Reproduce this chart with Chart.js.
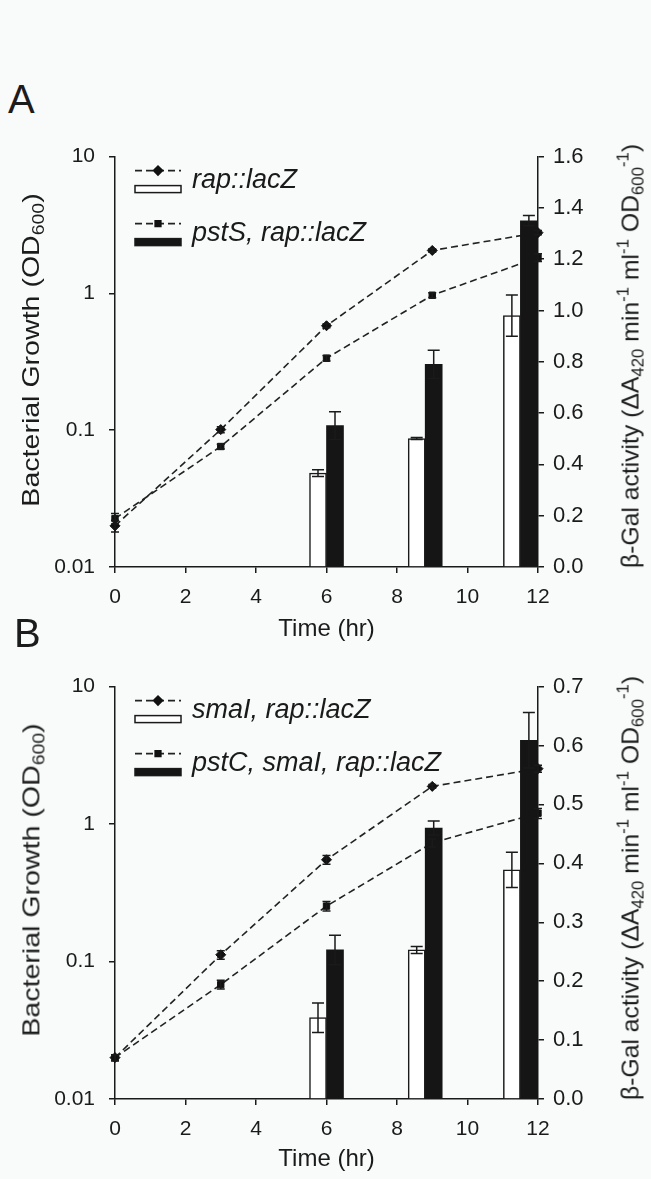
<!DOCTYPE html>
<html>
<head>
<meta charset="utf-8">
<title>rap::lacZ expression and growth</title>
<script src="https://cdn.jsdelivr.net/npm/chart.js"></script>
<style>
  body { margin: 0; background: #f9fafa; font-family: "Liberation Sans", Arial, sans-serif; color: #1c1c1c; }
  #page { position: relative; width: 651px; height: 1179px; overflow: hidden; }
  canvas { position: absolute; left: 0; }
  .panel { position: absolute; font-size: 40px; line-height: 1; }
  .ytitle { position: absolute; white-space: nowrap; font-size: 24px; line-height: 1; }
  .ytitle.left { transform: translate(-50%, -50%) rotate(-90deg) scaleX(1.19); }
  .ytitle.right { transform: translate(-50%, -50%) rotate(-90deg) scaleX(1.03); }
  .ytitle sub { font-size: 0.68em; vertical-align: -0.3em; }
  .ytitle sup { font-size: 0.68em; vertical-align: 0.6em; }
</style>
</head>
<body>
<div id="page">
  <div class="panel" style="left:8px;top:79px">A</div>
  <canvas id="chartA" width="651" height="520" style="top:130px"></canvas>
  <div class="ytitle left" style="left:33px;top:350px">Bacterial Growth (OD<sub>600</sub>)</div>
  <div class="ytitle right" style="left:630px;top:356px">&beta;-Gal activity (&Delta;A<sub>420</sub> min<sup>-1</sup> ml<sup>-1</sup> OD<sub>600</sub><sup>-1</sup>)</div>

  <div class="panel" style="left:14px;top:613px">B</div>
  <canvas id="chartB" width="651" height="520" style="top:660px"></canvas>
  <div class="ytitle left" style="left:33px;top:880px">Bacterial Growth (OD<sub>600</sub>)</div>
  <div class="ytitle right" style="left:630px;top:888px">&beta;-Gal activity (&Delta;A<sub>420</sub> min<sup>-1</sup> ml<sup>-1</sup> OD<sub>600</sub><sup>-1</sup>)</div>
</div>
<script>
// sampling times (hr) for growth curves, and where the bar pairs sit
var times = [0, 3, 6, 9, 12];
var barTimes = [6, 8.8, 11.5];

// axis ticks
var growthTicks = [0.01, 0.1, 1, 10];
var growthTickLabels = ['0.01', '0.1', '1', '10'];
var timeTicks = [0, 2, 4, 6, 8, 10, 12];

// panel A
var labelsA = ['rap::lacZ', 'pstS, rap::lacZ'];
var growthA1 = [0.020, 0.101, 0.58, 2.06, 2.78];
var growthA1Err = [0.002, 0.005, 0.02, 0.06, 0.10];
var growthA2 = [0.0226, 0.076, 0.336, 0.97, 1.83];
var growthA2Err = [0.002, 0.003, 0.015, 0.04, 0.12];
var galA1 = [0.366, 0.501, 0.98];
var galA1Err = [0.013, 0.004, 0.08];
var galA2 = [0.551, 0.79, 1.35];
var galA2Err = [0.054, 0.055, 0.02];
var galTicksA = [0, 0.2, 0.4, 0.6, 0.8, 1.0, 1.2, 1.4, 1.6];

// panel B
var labelsB = ['smaI, rap::lacZ', 'pstC, smaI, rap::lacZ'];
var growthB1 = [0.020, 0.112, 0.55, 1.88, 2.53];
var growthB1Err = [0.001, 0.008, 0.04, 0.06, 0.15];
var growthB2 = [0.020, 0.068, 0.253, 0.73, 1.20];
var growthB2Err = [0.001, 0.005, 0.02, 0.05, 0.10];
var galB1 = [0.138, 0.253, 0.389];
var galB1Err = [0.025, 0.006, 0.03];
var galB2 = [0.253, 0.46, 0.609];
var galB2Err = [0.025, 0.012, 0.047];
var galTicksB = [0, 0.1, 0.2, 0.3, 0.4, 0.5, 0.6, 0.7];

var INK = '#1a1a1a';
var FONT = '"Liberation Sans", Arial, sans-serif';

function pts(xs, ys) {
    return xs.map(function(x, i) { return { x: x, y: ys[i] }; });
}

// vertical error bars for any dataset carrying an "errors" array
var errorBars = {
    id: 'errorBars',
    afterDatasetsDraw: function(chart) {
        var ctx = chart.ctx;
        chart.data.datasets.forEach(function(ds, i) {
            if (!ds.errors) return;
            var meta = chart.getDatasetMeta(i);
            var scale = chart.scales[ds.yAxisID];
            var cap = ds.type === 'bar' ? 6 : 4;
            ctx.save();
            ctx.strokeStyle = INK;
            ctx.lineWidth = 1.5;
            meta.data.forEach(function(el, j) {
                var v = ds.data[j].y, e = ds.errors[j];
                var hi = scale.getPixelForValue(v + e);
                var lo = scale.getPixelForValue(Math.max(v - e, scale.min));
                ctx.beginPath();
                ctx.moveTo(el.x, hi); ctx.lineTo(el.x, lo);
                ctx.moveTo(el.x - cap, hi); ctx.lineTo(el.x + cap, hi);
                ctx.moveTo(el.x - cap, lo); ctx.lineTo(el.x + cap, lo);
                ctx.stroke();
            });
            ctx.restore();
        });
    }
};

// legend: dashed line with marker above a bar swatch, label to the right
var pairLegend = {
    id: 'pairLegend',
    afterDraw: function(chart) {
        var ctx = chart.ctx, a = chart.chartArea, ds = chart.data.datasets;
        var x0 = a.left + 20, x1 = a.left + 66, xt = a.left + 77;
        [[0, 2], [1, 3]].forEach(function(p, k) {
            var line = ds[p[0]], bar = ds[p[1]];
            var y = a.top + 14 + k * 53;
            ctx.save();
            ctx.strokeStyle = line.borderColor;
            ctx.lineWidth = line.borderWidth;
            ctx.setLineDash(line.borderDash);
            ctx.beginPath(); ctx.moveTo(x0, y); ctx.lineTo(x1, y); ctx.stroke();
            ctx.setLineDash([]);
            ctx.fillStyle = line.pointBackgroundColor;
            ctx.strokeStyle = line.pointBorderColor;
            Chart.helpers.drawPoint(ctx, {
                pointStyle: line.pointStyle, radius: line.pointRadius - 0.5,
                rotation: 0, borderWidth: 1
            }, (x0 + x1) / 2, y);
            ctx.fillStyle = bar.backgroundColor;
            ctx.strokeStyle = bar.borderColor;
            ctx.lineWidth = 1.5;
            ctx.fillRect(x0, y + 15, x1 - x0, 7);
            ctx.strokeRect(x0, y + 15, x1 - x0, 7);
            ctx.fillStyle = INK;
            ctx.font = 'italic 27px ' + FONT;
            ctx.textBaseline = 'middle';
            ctx.fillText(line.label, xt, y + 10);
            ctx.restore();
        });
    }
};

function lineSet(label, ys, errs, style, radius) {
    return {
        type: 'line', label: label, data: pts(times, ys), errors: errs, yAxisID: 'y',
        borderColor: '#222', borderWidth: 1.6, borderDash: [7, 4],
        pointStyle: style, pointRadius: radius, pointHoverRadius: radius,
        pointBackgroundColor: '#111', pointBorderColor: '#111', pointBorderWidth: 1,
        fill: false, tension: 0, clip: false, order: 1
    };
}

function barSet(label, ys, errs, fill) {
    return {
        type: 'bar', label: label, data: pts(barTimes, ys), errors: errs, yAxisID: 'y2',
        backgroundColor: fill, borderColor: INK, borderWidth: fill === '#ffffff' ? 1.5 : 0,
        barThickness: 17, order: 0
    };
}

function axisStyle() {
    return {
        grid: { drawOnChartArea: false, tickLength: 6, color: INK, lineWidth: 1.5, offset: false },
        border: { display: true, color: INK, width: 1.5 }
    };
}

function makePanel(id, labels, g1, g1e, g2, g2e, b1, b1e, b2, b2e, galTicks, plotH) {
    var tickFont = { family: FONT, size: 21 };
    var x = axisStyle(), y = axisStyle(), y2 = axisStyle();

    x.type = 'linear'; x.min = 0; x.max = 12; x.offset = false;
    x.afterBuildTicks = function(s) { s.ticks = timeTicks.map(function(v) { return { value: v }; }); };
    x.ticks = { font: tickFont, color: INK, padding: 12, maxRotation: 0 };
    x.title = { display: true, text: 'Time (hr)', font: { family: FONT, size: 24 }, color: INK,
                padding: { top: 0, bottom: 6 } };
    x.afterFit = function(s) { s.height = 520 - 22 - plotH; };

    y.type = 'logarithmic'; y.position = 'left'; y.min = 0.01; y.max = 10;
    y.afterBuildTicks = function(s) { s.ticks = growthTicks.map(function(v) { return { value: v }; }); };
    y.ticks = { font: tickFont, color: INK, padding: 14,
                callback: function(v) { return growthTickLabels[growthTicks.indexOf(v)]; } };
    y.afterFit = function(s) { s.width = 115; };

    y2.type = 'linear'; y2.position = 'right'; y2.min = 0; y2.max = galTicks[galTicks.length - 1];
    y2.afterBuildTicks = function(s) { s.ticks = galTicks.map(function(v) { return { value: v }; }); };
    y2.ticks = { font: { family: FONT, size: 22 }, color: INK, padding: 9,
                 callback: function(v) { return v.toFixed(1); } };
    y2.afterFit = function(s) { s.width = 113; };

    return new Chart(document.getElementById(id), {
        type: 'line',
        data: {
            datasets: [
                lineSet(labels[0], g1, g1e, 'rectRot', 5),
                lineSet(labels[1], g2, g2e, 'rect', 4.5),
                barSet(labels[0], b1, b1e, '#ffffff'),
                barSet(labels[1], b2, b2e, '#151515')
            ]
        },
        options: {
            responsive: false,
            animation: false,
            layout: { padding: { top: 22, left: 0, right: 0, bottom: 0 } },
            plugins: { legend: { display: false }, tooltip: { enabled: false } },
            scales: { x: x, y: y, y2: y2 }
        },
        plugins: [errorBars, pairLegend]
    });
}

makePanel('chartA', labelsA, growthA1, growthA1Err, growthA2, growthA2Err,
          galA1, galA1Err, galA2, galA2Err, galTicksA, 415);
makePanel('chartB', labelsB, growthB1, growthB1Err, growthB2, growthB2Err,
          galB1, galB1Err, galB2, galB2Err, galTicksB, 417);
</script>
</body>
</html>
